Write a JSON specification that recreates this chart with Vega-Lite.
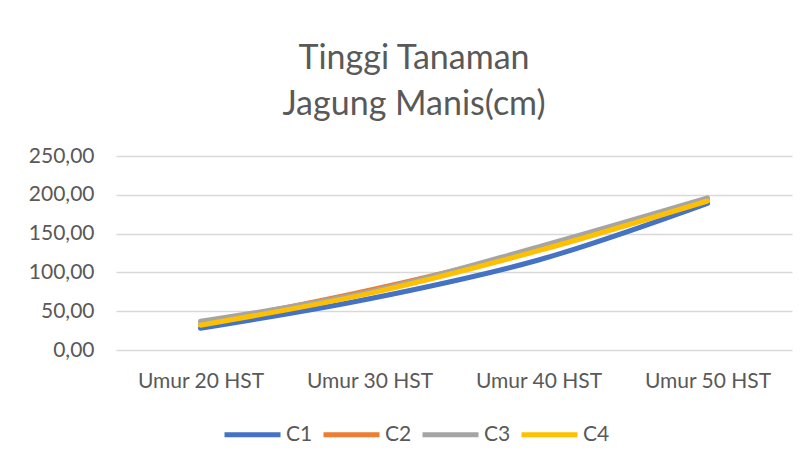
{
  "$schema": "https://vega.github.io/schema/vega-lite/v6.json",
  "width": 676,
  "height": 194,
  "autosize": {"type": "none"},
  "padding": {"left": 116, "top": 156, "right": 14, "bottom": 113},
  "background": "white",
  "config": {
    "locale": {"number": {"decimal": ",", "thousands": ".", "grouping": [3], "currency": ["", ""]}},
    "view": {"stroke": null},
    "font": "Lato"
  },
  "title": {
    "text": ["Tinggi Tanaman", "Jagung Manis(cm)"],
    "fontSize": 34,
    "font": "Lato",
    "fontWeight": "normal",
    "color": "#595959",
    "lineHeight": 46,
    "anchor": "middle",
    "dx": -40,
    "offset": 23
  },
  "data": {
    "values": [
      {"umur": "Umur 20 HST", "seri": "C1", "tinggi": 28},
      {"umur": "Umur 30 HST", "seri": "C1", "tinggi": 66},
      {"umur": "Umur 40 HST", "seri": "C1", "tinggi": 116},
      {"umur": "Umur 50 HST", "seri": "C1", "tinggi": 189},
      {"umur": "Umur 20 HST", "seri": "C2", "tinggi": 33},
      {"umur": "Umur 30 HST", "seri": "C2", "tinggi": 77},
      {"umur": "Umur 40 HST", "seri": "C2", "tinggi": 130},
      {"umur": "Umur 50 HST", "seri": "C2", "tinggi": 193},
      {"umur": "Umur 20 HST", "seri": "C3", "tinggi": 37},
      {"umur": "Umur 30 HST", "seri": "C3", "tinggi": 75},
      {"umur": "Umur 40 HST", "seri": "C3", "tinggi": 133},
      {"umur": "Umur 50 HST", "seri": "C3", "tinggi": 196},
      {"umur": "Umur 20 HST", "seri": "C4", "tinggi": 32},
      {"umur": "Umur 30 HST", "seri": "C4", "tinggi": 73},
      {"umur": "Umur 40 HST", "seri": "C4", "tinggi": 128},
      {"umur": "Umur 50 HST", "seri": "C4", "tinggi": 192}
    ]
  },
  "mark": {"type": "line", "strokeWidth": 5, "interpolate": "catmull-rom", "strokeCap": "round"},
  "encoding": {
    "x": {
      "field": "umur",
      "type": "nominal",
      "scale": {"type": "point", "padding": 0.5},
      "axis": {
        "title": null,
        "labelAngle": 0,
        "labelFontSize": 21,
        "labelColor": "#595959",
        "labelFont": "Lato",
        "ticks": false,
        "domain": false,
        "labelPadding": 20,
        "grid": false
      }
    },
    "y": {
      "field": "tinggi",
      "type": "quantitative",
      "scale": {"domain": [0, 250]},
      "axis": {
        "title": null,
        "values": [0, 50, 100, 150, 200, 250],
        "format": ".2f",
        "labelFontSize": 21,
        "labelColor": "#595959",
        "labelFont": "Lato",
        "ticks": false,
        "domain": false,
        "labelPadding": 22,
        "grid": true,
        "gridColor": "#d9d9d9",
        "gridWidth": 1.5
      }
    },
    "color": {
      "field": "seri",
      "type": "nominal",
      "scale": {"domain": ["C1", "C2", "C3", "C4"], "range": ["#4472C4", "#ED7D31", "#A5A5A5", "#FFC000"]},
      "legend": {
        "title": null,
        "orient": "none",
        "legendX": 106,
        "legendY": 248,
        "direction": "horizontal",
        "symbolType": "stroke",
        "symbolStrokeWidth": 5,
        "symbolSize": 3136,
        "labelFontSize": 21,
        "labelColor": "#595959",
        "labelFont": "Lato",
        "labelOffset": 3,
        "columnPadding": 0,
        "symbolOffset": 0
      }
    },
    "order": {"field": "seri"}
  }
}
